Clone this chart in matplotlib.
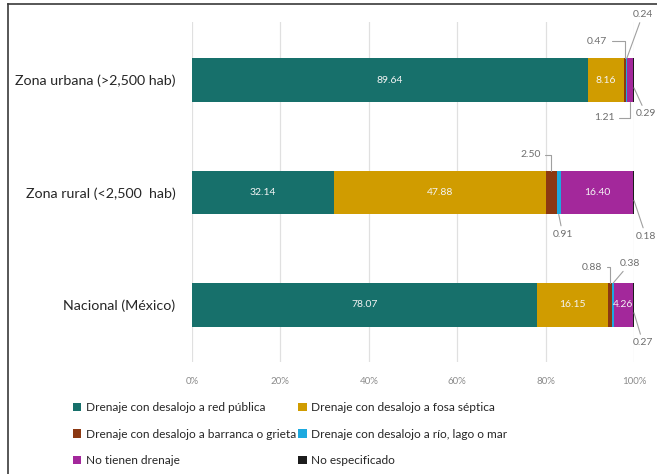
import matplotlib
matplotlib.use("Agg")
import matplotlib.pyplot as plt
from matplotlib.patches import Patch
from matplotlib.lines import Line2D
import numpy as np

plt.rcParams['font.family'] = ['Lato', 'DejaVu Sans']

categories = ["Zona urbana (>2,500 hab)", "Zona rural (<2,500  hab)", "Nacional (México)"]
series_names = [
    "Drenaje con desalojo a red pública",
    "Drenaje con desalojo a fosa séptica",
    "Drenaje con desalojo a barranca o grieta",
    "Drenaje con desalojo a río, lago o mar",
    "No tienen drenaje",
    "No especificado",
]
red_publica = [89.64, 32.14, 78.07]
fosa_septica = [8.16, 47.88, 16.15]
barranca = [0.47, 2.50, 0.88]
rio_lago_mar = [0.24, 0.91, 0.38]
sin_drenaje = [1.21, 16.40, 4.26]
no_especificado = [0.29, 0.18, 0.27]
x_ticks = [0, 20, 40, 60, 80, 100]
x_tick_labels = ["0%", "20%", "40%", "60%", "80%", "100%"]

colors = ["#17706b", "#d09c00", "#8b3812", "#1ca9df", "#a3289b", "#1c1c1c"]
series = [red_publica, fosa_septica, barranca, rio_lago_mar, sin_drenaje, no_especificado]

fig = plt.figure(figsize=(6.57, 4.74), dpi=100)
W, H = 657, 474
ax = fig.add_axes([192 / W, 1 - 362 / H, (634 - 192) / W, (362 - 22) / H])

ypos = np.arange(len(categories))
bar_h = 0.39
left = np.zeros(len(categories))
starts = []
for vals, col in zip(series, colors):
    starts.append(left.copy())
    ax.barh(ypos, vals, left=left, height=bar_h, color=col, edgecolor="none", zorder=3)
    left = left + np.array(vals)

ax.set_xlim(0, 100)
ax.set_ylim(2.507, -0.516)
ax.set_xticks(x_ticks)
ax.set_xticklabels(x_tick_labels, fontsize=7, color="#8c8c8c")
ax.set_yticks(ypos)
ax.set_yticklabels(categories, fontsize=10.3, color="#262626")
ax.tick_params(axis="x", length=0, pad=11)
ax.tick_params(axis="y", length=0, pad=12)
ax.grid(axis="x", color="#e0e0e0", lw=0.9, zorder=0)
for s in ax.spines.values():
    s.set_visible(False)

# values printed inside the segments
inner = {0: [0, 1], 1: [0, 1, 4], 2: [0, 1, 4]}
for ci, sidx in inner.items():
    for si in sidx:
        v = series[si][ci]
        ax.text(starts[si][ci] + v / 2, ypos[ci], f"{v:.2f}", ha="center", va="center",
                fontsize=7.5, color="#f4f4f4", zorder=5)

# small values with leader lines
lead = dict(arrowstyle="-", color="#a0a0a0", lw=0.8, shrinkA=1, shrinkB=0)
def callout(ci, si, dx, dy, where, style="arc3"):
    v = series[si][ci]
    if where == "end":
        xv = 100
        yv = ypos[ci] + 0.07 * (1 if dy < 0 else -1)
    else:
        xv = starts[si][ci] + v / 2
        yv = ypos[ci] + (-bar_h / 2 if where == "top" else bar_h / 2)
    ap = dict(lead, connectionstyle=style)
    ax.annotate(f"{v:.2f}", xy=(xv, yv), xytext=(dx, dy), textcoords="offset pixels",
                ha="center", va="center", fontsize=7.5, color="#6e6e6e",
                arrowprops=ap, annotation_clip=False, zorder=6)

ang = "angle,angleA=0,angleB=90,rad=0"
# urbana
callout(0, 2, -28, 17, "top", ang)
callout(0, 3, 16, 44, "top")
callout(0, 4, -26, -16, "bottom", ang)
callout(0, 5, 12, -26, "end")
# rural
callout(1, 2, -21, 16, "top", ang)
callout(1, 3, 4, -20, "bottom")
callout(1, 5, 12, -36, "end")
# nacional
callout(2, 2, -18, 16, "top", ang)
callout(2, 3, 17, 20, "top")
callout(2, 5, 9, -30, "end")

# legend, row-major order in two columns
handles = [Patch(facecolor=c, edgecolor="none") for c in colors]
order = [0, 2, 4, 1, 3, 5]
fig.legend([handles[i] for i in order], [series_names[i] for i in order],
           ncol=2, loc="upper left", bbox_to_anchor=(67 / W, 1 - 396 / H),
           frameon=False, fontsize=8.6, handlelength=0.7, handleheight=0.7,
           handletextpad=0.35, columnspacing=0.2, labelspacing=1.3,
           borderpad=0, labelcolor="#262626")

# outer frame (left and top edges)
fig.add_artist(Line2D([8 / W, 8 / W], [0, 1 - 4 / H], transform=fig.transFigure, color="#3a3a3a", lw=1.2))
fig.add_artist(Line2D([8 / W, 1], [1 - 4 / H, 1 - 4 / H], transform=fig.transFigure, color="#3a3a3a", lw=1.2))

fig.savefig("out.png", dpi=100)
